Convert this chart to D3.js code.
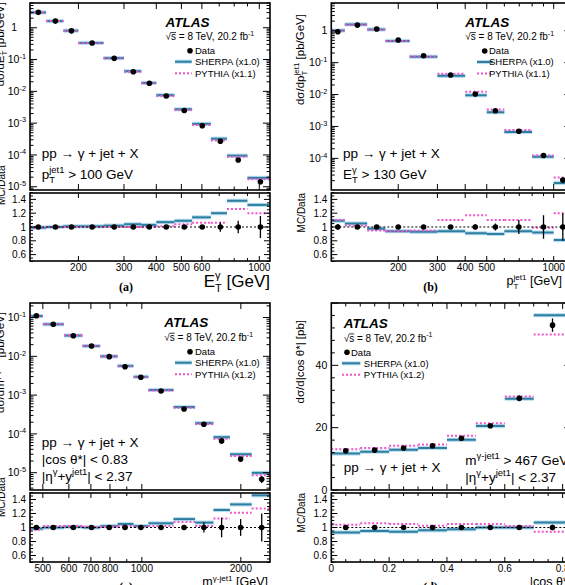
<!DOCTYPE html>
<html>
<head>
<meta charset="utf-8">
<script src="https://cdn.jsdelivr.net/npm/d3@7"></script>
<style>
  body { margin: 0; background: #fff; }
  svg { font-family: "Liberation Sans", Arial, Helvetica, sans-serif; }
  svg text { white-space: pre; }
</style>
</head>
<body>
<svg id="chart" width="565" height="585"></svg>
<script>
// ---- panel (a): E_T^gamma ----
const binsA = [130, 150, 175, 200, 250, 300, 350, 400, 470, 550, 650, 750, 900, 1100];
const xA = [140, 163, 188, 226, 275, 326, 376, 437, 513, 602, 707, 829, 1010];
const dataA = [3.05, 1.62, 0.80, 0.33, 0.109, 0.0413, 0.0179, 0.0071, 0.0025, 8.3e-4, 2.7e-4, 6.9e-5, 1.44e-5];
const errA = [0.02, 0.02, 0.02, 0.02, 0.02, 0.02, 0.02, 0.02, 0.025, 0.03, 0.07, 0.09, 0.16];
const sherpaA = [3.02, 1.62, 0.808, 0.333, 0.111, 0.043, 0.0184, 0.0076, 0.00273, 9.5e-4, 3.24e-4, 9.5e-5, 1.9e-5];
const pythiaA = [3.02, 1.62, 0.80, 0.33, 0.109, 0.0413, 0.0179, 0.00717, 0.0026, 8.8e-4, 2.86e-4, 8.7e-5, 1.73e-5];
const rSherpaA = [0.99, 1.0, 1.01, 1.01, 1.02, 1.04, 1.03, 1.07, 1.09, 1.14, 1.2, 1.38, 1.32];
const rPythiaA = [0.99, 1.0, 1.0, 1.0, 1.0, 1.0, 1.0, 1.01, 1.04, 1.06, 1.06, 1.26, 1.2];

// ---- panel (b): p_T^jet1 ----
const binsB = [100, 115, 145, 175, 225, 300, 400, 500, 600, 800, 1000, 1500];
const xB = [107, 131, 160, 200, 260, 344, 444, 547, 697, 900, 1099];
const dataB = [0.93, 1.5, 1.13, 0.51, 0.165, 0.041, 0.0104, 0.0031, 7.1e-4, 1.23e-4, 2.1e-5];
const errB = [0.04, 0.03, 0.03, 0.03, 0.03, 0.03, 0.04, 0.05, 0.1, 0.17, 0.2];
const sherpaB = [1.01, 1.58, 1.10, 0.48, 0.153, 0.0385, 0.0095, 0.0028, 6.7e-4, 1.13e-4, 1.7e-5];
const pythiaB = [1.02, 1.53, 1.07, 0.48, 0.157, 0.045, 0.0122, 0.0034, 7.8e-4, 1.22e-4, 2.5e-5];
const rSherpaB = [1.09, 1.05, 0.975, 0.94, 0.93, 0.94, 0.91, 0.9, 0.94, 0.92, 0.81];
const rPythiaB = [1.1, 1.02, 0.95, 0.94, 0.95, 1.1, 1.17, 1.1, 1.1, 0.99, 1.2];

// ---- panel (c): m^{gamma-jet1} ----
const binsC = [457, 500, 580, 660, 747, 844, 943, 1047, 1248, 1452, 1651, 1853, 2158, 2453];
const xC = [478, 538, 619, 703, 796, 889, 993, 1144, 1344, 1544, 1748, 1997, 2315];
const dataC = [0.111, 0.067, 0.034, 0.0184, 0.0098, 0.0054, 0.0029, 0.00128, 4.4e-4, 1.77e-4, 6.6e-5, 2.24e-5, 6.8e-6];
const errC = [0.02, 0.02, 0.02, 0.02, 0.02, 0.02, 0.025, 0.025, 0.03, 0.07, 0.14, 0.12, 0.2];
const sherpaC = [0.109, 0.067, 0.0343, 0.0184, 0.0100, 0.00567, 0.00296, 0.001357, 4.93e-4, 1.89e-4, 8.25e-5, 2.98e-5, 9.9e-6];
const pythiaC = [0.1077, 0.0683, 0.0347, 0.0186, 0.0099, 0.00551, 0.00293, 0.001306, 4.75e-4, 1.81e-4, 7.46e-5, 2.71e-5, 8.6e-6];
const rSherpaC = [0.985, 1.0, 1.01, 1.0, 1.02, 1.05, 1.02, 1.06, 1.12, 1.07, 1.25, 1.33, 1.46];
const rPythiaC = [0.97, 1.02, 1.02, 1.01, 1.01, 1.02, 1.01, 1.02, 1.08, 1.02, 1.13, 1.21, 1.27];

// ---- panel (d): |cos theta*| ----
const binsD = [0, 0.1, 0.2, 0.3, 0.4, 0.5, 0.6, 0.7, 0.83];
const xD = [0.05, 0.15, 0.25, 0.35, 0.45, 0.55, 0.65, 0.765];
const dataD = [12.6, 12.8, 13.5, 14.2, 16.6, 20.6, 29.4, 52.9];
const errD = [0.02, 0.02, 0.02, 0.02, 0.02, 0.02, 0.03, 0.04];
const sherpaD = [11.7, 12.3, 12.9, 13.5, 16.1, 20.5, 29.3, 56.1];
const pythiaD = [13.1, 13.5, 14.2, 14.6, 17.4, 21.4, 30.0, 49.9];
const rSherpaD = [0.93, 0.95, 0.94, 0.96, 0.975, 1.0, 1.0, 1.07];
const rPythiaD = [1.04, 1.06, 1.05, 1.025, 1.05, 1.05, 1.02, 0.94];

const ratioMajor = [0.6, 0.8, 1, 1.2, 1.4];

const sherpaCol = "#2f7ea0", bandCol = "#b8def0", pythiaCol = "#ee55cc";

const svg = d3.select("#chart");
const defs = svg.append("defs");

// text with super/subscripts, measured piece by piece
function rich(parent, parts, o) {
  const s = o.size;
  const g = parent.append("g")
    .attr("transform", `translate(${o.x},${o.y})` + (o.rot ? ` rotate(${o.rot})` : ""));
  const inner = g.append("g");
  let cx = 0;
  const add = (txt, dx, dy, fs) => {
    const t = inner.append("text").attr("x", dx).attr("y", dy).attr("font-size", fs).text(txt);
    if (o.weight) t.attr("font-weight", o.weight);
    if (o.italic) t.attr("font-style", "italic");
    if (o.family) t.attr("font-family", o.family);
    return t.node().getComputedTextLength();
  };
  parts.forEach(pt => {
    if (typeof pt === "string") {
      cx += add(pt, cx, 0, s);
    } else if (pt.over) {
      const w = add(pt.over, cx, 0, s);
      inner.append("line").attr("x1", cx).attr("x2", cx + w)
        .attr("y1", -s * 0.76).attr("y2", -s * 0.76)
        .attr("stroke", "#000").attr("stroke-width", 0.8);
      cx += w;
    } else {
      const sc = pt.scale || 0.68;
      let w = 0;
      if (pt.sup) w = Math.max(w, add(pt.sup, cx, -s * 0.42, s * sc));
      if (pt.sub) w = Math.max(w, add(pt.sub, cx, s * 0.3, s * sc));
      cx += w;
    }
  });
  const shift = o.anchor === "end" ? -cx : o.anchor === "middle" ? -cx / 2 : 0;
  inner.attr("transform", `translate(${shift},0)`);
  return g;
}

function logVals(d0, d1) {
  const out = [];
  for (let k = Math.floor(Math.log10(d0)) - 1; k <= Math.ceil(Math.log10(d1)); k++) {
    for (let n = 1; n <= 9; n++) {
      const v = n * Math.pow(10, k);
      if (v >= d0 * 0.9999 && v <= d1 * 1.0001) out.push(v);
    }
  }
  return out;
}
const isDecade = v => Math.abs(Math.log10(v) - Math.round(Math.log10(v))) < 1e-6;

function drawPanel(p) {
  const g = svg.append("g");
  const L = p.left, R = p.right;
  const x = (p.xlog ? d3.scaleLog() : d3.scaleLinear()).domain(p.xDomain).range([L, R]);
  const y = (p.ylog ? d3.scaleLog() : d3.scaleLinear()).domain(p.yDomain).range([p.mainBot, p.top]);
  const yr = d3.scaleLinear().domain([0.5, 1.5]).range([p.ratBot + 0.5, p.ratTop - 0.5]);

  defs.append("clipPath").attr("id", "cm" + p.id).append("rect")
    .attr("x", L).attr("y", p.top).attr("width", R - L).attr("height", p.mainBot - p.top);
  defs.append("clipPath").attr("id", "cr" + p.id).append("rect")
    .attr("x", L).attr("y", p.ratTop).attr("width", R - L).attr("height", p.ratBot - p.ratTop);

  const gm = g.append("g").attr("clip-path", `url(#cm${p.id})`);
  const gr = g.append("g").attr("clip-path", `url(#cr${p.id})`);

  const segs = p.bins.slice(0, -1).map((b, i) => ({ x0: b, x1: p.bins[i + 1], i }));

  function mc(gg, yy, sh, py) {
    gg.append("g").selectAll("rect").data(segs).join("rect")
      .attr("x", d => x(d.x0)).attr("width", d => x(d.x1) - x(d.x0))
      .attr("y", d => yy(sh[d.i]) - 2.1).attr("height", 4.2)
      .attr("fill", bandCol);
    gg.append("g").selectAll("line").data(segs).join("line")
      .attr("x1", d => x(d.x0)).attr("x2", d => x(d.x1))
      .attr("y1", d => yy(sh[d.i])).attr("y2", d => yy(sh[d.i]))
      .attr("stroke", sherpaCol).attr("stroke-width", 2);
    gg.append("g").selectAll("line").data(segs).join("line")
      .attr("x1", d => x(d.x0)).attr("x2", d => x(d.x1))
      .attr("y1", d => yy(py[d.i])).attr("y2", d => yy(py[d.i]))
      .attr("stroke", pythiaCol).attr("stroke-width", 2).attr("stroke-dasharray", "2,2");
  }

  // main panel
  mc(gm, y, p.sherpa, p.pythia);
  const pts = p.data.map((v, i) => ({ x: p.dataX[i], v, e: p.err[i] }));
  gm.append("g").selectAll("line").data(pts).join("line")
    .attr("x1", d => x(d.x)).attr("x2", d => x(d.x))
    .attr("y1", d => y(d.v * (1 - d.e))).attr("y2", d => y(d.v * (1 + d.e)))
    .attr("stroke", "#000").attr("stroke-width", 1.3);
  gm.append("g").selectAll("circle").data(pts).join("circle")
    .attr("cx", d => x(d.x)).attr("cy", d => y(d.v)).attr("r", 2.8).attr("fill", "#000");

  // ratio panel
  mc(gr, yr, p.rSherpa, p.rPythia);
  gr.append("line").attr("x1", L).attr("x2", R).attr("y1", yr(1)).attr("y2", yr(1))
    .attr("stroke", "#000").attr("stroke-width", 1).attr("stroke-dasharray", "2,2");
  gr.append("g").selectAll("line").data(pts).join("line")
    .attr("x1", d => x(d.x)).attr("x2", d => x(d.x))
    .attr("y1", d => yr(1 - d.e)).attr("y2", d => yr(1 + d.e))
    .attr("stroke", "#000").attr("stroke-width", 1.3);
  gr.append("g").selectAll("circle").data(pts).join("circle")
    .attr("cx", d => x(d.x)).attr("cy", yr(1)).attr("r", 2.8).attr("fill", "#000");

  // ticks
  const tk = g.append("g").attr("stroke", "#000").attr("stroke-width", 1);
  const vline = (xx, y1, y2) => tk.append("line").attr("x1", xx).attr("x2", xx).attr("y1", y1).attr("y2", y2);
  const hline = (yy, x1, x2) => tk.append("line").attr("x1", x1).attr("x2", x2).attr("y1", yy).attr("y2", yy);

  let xt;
  if (p.xlog) {
    xt = logVals(p.xDomain[0], p.xDomain[1]).map(v => ({ v, big: p.xLabels.includes(v) || isDecade(v) }));
  } else {
    xt = d3.range(0, p.xDomain[1] + 1e-9, 0.05).map(v => ({ v, big: Math.abs(v / 0.2 - Math.round(v / 0.2)) < 1e-6 }));
  }
  xt.forEach(t => {
    const xx = x(t.v), len = t.big ? 6 : 3.5;
    if (xx < L + 0.5 || xx > R - 0.5) return;
    vline(xx, p.mainBot, p.mainBot - len);
    vline(xx, p.top, p.top + len);
    vline(xx, p.ratBot, p.ratBot - (t.big ? 5 : 3));
    vline(xx, p.ratTop, p.ratTop + (t.big ? 5 : 3));
  });

  let yt;
  if (p.ylog) {
    yt = logVals(p.yDomain[0], p.yDomain[1]).map(v => ({ v, big: isDecade(v) }));
  } else {
    yt = d3.range(0, p.yDomain[1] + 1e-9, 4).map(v => ({ v, big: v % 20 === 0 }));
  }
  yt.forEach(t => {
    const yy = y(t.v), len = t.big ? 7 : 3.5;
    hline(yy, L, L + len);
    hline(yy, R, R - len);
  });
  d3.range(0.5, 1.5001, 0.05).forEach(v => {
    const big = ratioMajor.some(m => Math.abs(m - v) < 1e-6);
    const yy = yr(v), len = big ? 6 : 3;
    hline(yy, L, L + len);
    hline(yy, R, R - len);
  });

  // frames
  [[p.top, p.mainBot], [p.ratTop, p.ratBot]].forEach(([t, b]) => {
    g.append("rect").attr("x", L).attr("y", t).attr("width", R - L).attr("height", b - t)
      .attr("fill", "none").attr("stroke", "#000").attr("stroke-width", 1.6);
  });

  // tick labels
  const lab = g.append("g");
  if (p.ylog) {
    yt.filter(t => t.big).forEach(t => {
      const k = Math.round(Math.log10(t.v));
      const parts = k === 0 ? ["1"] : ["10", { sup: "-" + (-k), scale: 0.7 }];
      const xx = (k === 0 && p.oneX) ? p.oneX : L - 4;
      rich(lab, parts, { x: xx, y: y(t.v) + 3.6, size: 10.5, anchor: "end" });
    });
  } else {
    [0, 20, 40].forEach(v => rich(lab, [String(v)], { x: L - 4, y: y(v) + 3.6, size: 10.5, anchor: "end" }));
  }
  ratioMajor.forEach(v => rich(lab, [String(v)], { x: L - 4, y: yr(v) + 3.6, size: 10, anchor: "end" }));
  const xl = p.xlog ? p.xLabels : [0, 0.2, 0.4, 0.6, 0.8];
  xl.forEach(v => rich(lab, [String(v)], { x: x(v), y: p.ratBot + 10, size: 10, anchor: "middle" }));

  return g;
}

function legend(g, lg, pyText) {
  const tx2 = lg.tx2 || lg.tx;
  rich(g, ["ATLAS"], { x: lg.ax, y: lg.ay, size: 13.5, weight: "bold", italic: true });
  rich(g, ["\u221A", { over: "s" }, " = 8 TeV, 20.2 fb", { sup: "-1", scale: 0.7 }], { x: lg.ax, y: lg.ay + 13.5, size: 10 });
  g.append("circle").attr("cx", lg.dot).attr("cy", lg.ry).attr("r", 2.8).attr("fill", "#000");
  rich(g, ["Data"], { x: lg.tx, y: lg.ry + 3.4, size: 9.5 });
  g.append("rect").attr("x", lg.l0).attr("width", lg.l1 - lg.l0).attr("y", lg.ry + 11 - 2.1).attr("height", 4.2).attr("fill", bandCol);
  g.append("line").attr("x1", lg.l0).attr("x2", lg.l1).attr("y1", lg.ry + 11).attr("y2", lg.ry + 11)
    .attr("stroke", sherpaCol).attr("stroke-width", 2);
  rich(g, ["SHERPA (x1.0)"], { x: tx2, y: lg.ry + 14.4, size: 9.5 });
  g.append("line").attr("x1", lg.l0).attr("x2", lg.l1).attr("y1", lg.ry + 22.5).attr("y2", lg.ry + 22.5)
    .attr("stroke", pythiaCol).attr("stroke-width", 2).attr("stroke-dasharray", "2,2");
  rich(g, [pyText], { x: tx2, y: lg.ry + 25.9, size: 9.5 });
}

const serif = '"Liberation Serif", "Times New Roman", serif';

// ---- (a) ----
const gA = drawPanel({
  id: "a", left: 30, right: 270, top: 3, mainBot: 190, ratTop: 193, ratBot: 261,
  xlog: true, xDomain: [130, 1100], ylog: true, yDomain: [7.9e-6, 6],
  bins: binsA, dataX: xA, data: dataA, err: errA, sherpa: sherpaA, pythia: pythiaA,
  rSherpa: rSherpaA, rPythia: rPythiaA, xLabels: [200, 300, 400, 500, 600, 1000], oneX: 17
});
legend(gA, { ax: 165.5, ay: 26.7, dot: 190, ry: 50.7, tx: 195, l0: 175, l1: 191.7 }, "PYTHIA (x1.1)");
rich(gA, ["pp \u2192 \u03B3 + jet + X"], { x: 41.7, y: 158.3, size: 13.5 });
rich(gA, ["p", { sup: "jet1", sub: "T", scale: 0.7 }, " > 100 GeV"], { x: 41.7, y: 179, size: 13.5 });
rich(gA, ["d\u03C3/dE", { sup: "\u03B3", sub: "T", scale: 0.7 }, " [pb/GeV]"], { x: 4, y: 2, size: 11.5, rot: -90, anchor: "end" });
rich(gA, ["MC/Data"], { x: 4.5, y: 205, size: 10, rot: -90 });
rich(gA, ["E", { sup: "\u03B3", sub: "T", scale: 0.65 }, " [GeV]"], { x: 270, y: 286.5, size: 17, anchor: "end" });
rich(gA, ["(a)"], { x: 126, y: 291, size: 12, weight: "bold", family: serif, anchor: "middle" });

// ---- (b) ----
const gB = drawPanel({
  id: "b", left: 331.3, right: 571.3, top: 3, mainBot: 190, ratTop: 193, ratBot: 261,
  xlog: true, xDomain: [100, 1200], ylog: true, yDomain: [1.02e-5, 7.4],
  bins: binsB, dataX: xB, data: dataB, err: errB, sherpa: sherpaB, pythia: pythiaB,
  rSherpa: rSherpaB, rPythia: rPythiaB, xLabels: [200, 300, 400, 500, 1000]
});
legend(gB, { ax: 465.3, ay: 26.7, dot: 484.7, ry: 51, tx: 489, l0: 477, l1: 492.7 }, "PYTHIA (x1.1)");
rich(gB, ["pp \u2192 \u03B3 + jet + X"], { x: 343, y: 158.3, size: 13.5 });
rich(gB, ["E", { sup: "\u03B3", sub: "T", scale: 0.7 }, " > 130 GeV"], { x: 343, y: 179, size: 13.5 });
rich(gB, ["d\u03C3/dp", { sup: "jet1", sub: "T", scale: 0.7 }, " [pb/GeV]"], { x: 304, y: 14, size: 11.5, rot: -90, anchor: "end" });
rich(gB, ["MC/Data"], { x: 304.5, y: 193, size: 10, rot: -90, anchor: "end" });
rich(gB, ["p", { sup: "jet1", sub: "T", scale: 0.65 }, " [GeV]"], { x: 562, y: 285, size: 12.5, anchor: "end" });
rich(gB, ["(b)"], { x: 430.5, y: 291, size: 12, weight: "bold", family: serif, anchor: "middle" });

// ---- (c) ----
const gC = drawPanel({
  id: "c", left: 30, right: 270, top: 303, mainBot: 490, ratTop: 493, ratBot: 562,
  xlog: true, xDomain: [457, 2453], ylog: true, yDomain: [3.58e-6, 0.237],
  bins: binsC, dataX: xC, data: dataC, err: errC, sherpa: sherpaC, pythia: pythiaC,
  rSherpa: rSherpaC, rPythia: rPythiaC, xLabels: [500, 600, 700, 800, 1000, 2000]
});
legend(gC, { ax: 164.3, ay: 327.3, dot: 190, ry: 351.7, tx: 195, l0: 175, l1: 191.7 }, "PYTHIA (x1.2)");
rich(gC, ["pp \u2192 \u03B3 + jet + X"], { x: 41.7, y: 446.7, size: 13.5 });
rich(gC, ["|cos \u03B8*| < 0.83"], { x: 41.7, y: 464, size: 13.5 });
rich(gC, ["|\u03B7", { sup: "\u03B3", scale: 0.7 }, "+y", { sup: "jet1", scale: 0.7 }, "| < 2.37"], { x: 41.7, y: 480.5, size: 13.5 });
rich(gC, ["d\u03C3/dm", { sup: "\u03B3-jet1", scale: 0.7 }, " [pb/GeV]"], { x: 4, y: 312, size: 11.5, rot: -90, anchor: "end" });
rich(gC, ["MC/Data"], { x: 4.5, y: 517, size: 10, rot: -90 });
rich(gC, ["m", { sup: "\u03B3-jet1", scale: 0.65 }, " [GeV]"], { x: 268, y: 586, size: 12.5, anchor: "end" });
rich(gC, ["(c)"], { x: 126, y: 591, size: 12, weight: "bold", family: serif, anchor: "middle" });

// ---- (d) ----
const gD = drawPanel({
  id: "d", left: 331.3, right: 571.3, top: 303, mainBot: 490, ratTop: 493, ratBot: 562,
  xlog: false, xDomain: [0, 0.83], ylog: false, yDomain: [0, 60],
  bins: binsD, dataX: xD, data: dataD, err: errD, sherpa: sherpaD, pythia: pythiaD,
  rSherpa: rSherpaD, rPythia: rPythiaD
});
legend(gD, { ax: 343.7, ay: 328, dot: 347, ry: 352.3, tx: 351, tx2: 363.8, l0: 342, l1: 360.3 }, "PYTHIA (x1.2)");
rich(gD, ["pp \u2192 \u03B3 + jet + X"], { x: 343.7, y: 471.7, size: 13.5 });
rich(gD, ["m", { sup: "\u03B3-jet1", scale: 0.7 }, " > 467 GeV"], { x: 465.3, y: 465, size: 13.5 });
rich(gD, ["|\u03B7", { sup: "\u03B3", scale: 0.7 }, "+y", { sup: "jet1", scale: 0.7 }, "| < 2.37"], { x: 465.3, y: 482, size: 13.5 });
rich(gD, ["d\u03C3/d|cos \u03B8*| [pb]"], { x: 304, y: 320, size: 11.5, rot: -90, anchor: "end" });
rich(gD, ["MC/Data"], { x: 304.5, y: 493, size: 10, rot: -90, anchor: "end" });
rich(gD, ["|cos \u03B8*|"], { x: 571, y: 586, size: 12.5, anchor: "end" });
rich(gD, ["(d)"], { x: 430.5, y: 591, size: 12, weight: "bold", family: serif, anchor: "middle" });
</script>
</body>
</html>
